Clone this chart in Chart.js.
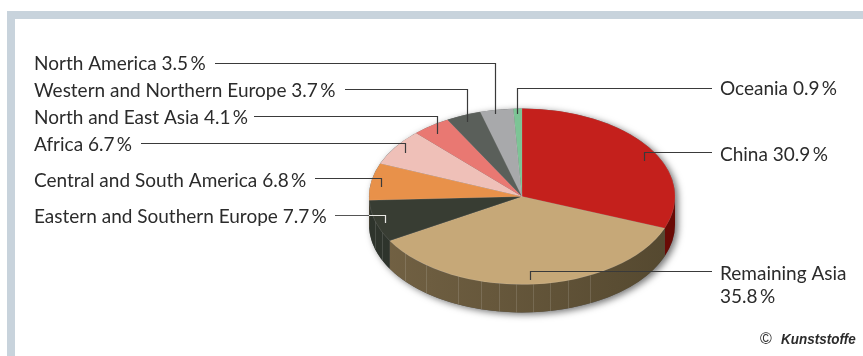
<!DOCTYPE html>
<html>
<head>
<meta charset="utf-8">
<title>Regional shares</title>
<script src="https://cdn.jsdelivr.net/npm/chart.js@4"></script>
<style>
  html, body { margin: 0; padding: 0; background: #fff; }
  canvas { display: block; }
</style>
</head>
<body>
<canvas id="regionPie" width="863" height="356"></canvas>
<script>
// clockwise from twelve o'clock
const regions = ['China', 'Remaining Asia', 'Eastern and Southern Europe', 'Central and South America', 'Africa', 'North and East Asia', 'Western and Northern Europe', 'North America', 'Oceania'];
const shares = [30.9, 35.8, 7.7, 6.8, 6.7, 4.1, 3.7, 3.5, 0.9];
const sliceColors = ['#c4201c', '#c6a878', '#383d33', '#e8914a', '#efc0b8', '#e97872', '#5a5f5a', '#a8a9ab', '#7cc495'];
const wallColors = ['#6a0a05', '#736244', '#2e342c', '#b06a30', '#b08a84', '#a8504c', '#3e423e', '#77787a', '#4f8a63'];

// pie geometry: tilt squashes the circle, depth is the height of the side wall
const TILT = 88 / 153;
const DEPTH = 28;
// facet seams on the wall, degrees clockwise from three o'clock
const wallSeams = [63.8, 72.5, 79.6, 86, 92.2, 98.8, 105.7, 114.8, 128.7, 140, 156, 164];

// leader lines: label side x, y, elbow x, end y
const leaders = [
  { x0: 712, y: 152.5, elbow: 644.5, end: 161 },
  { x0: 712, y: 271.5, elbow: 530.5, end: 280 },
  { x0: 335, y: 215.5, elbow: 385.5, end: 223 },
  { x0: 315, y: 178.5, elbow: 381.5, end: 187 },
  { x0: 141, y: 143.5, elbow: 405.5, end: 153 },
  { x0: 254, y: 116.5, elbow: 437.5, end: 134 },
  { x0: 345, y: 89.5, elbow: 467.5, end: 122 },
  { x0: 215, y: 63.5, elbow: 495.5, end: 114 },
  { x0: 712, y: 88.5, elbow: 517.5, end: 114 }
];
const labelSpots = [
  [720, 161], [720, 280], [34, 223], [34, 187], [34, 151], [34, 124], [34, 97], [34, 70], [720, 95]
];
const FONT = '19px Lato';

function pct(i) {
  return shares[i].toFixed(1) + '\u2009%';
}

const wallPlugin = {
  id: 'wall',
  beforeDatasetsDraw(chart) {
    const ctx = chart.ctx;
    const arcs = chart.getDatasetMeta(0).data;
    const cx = arcs[0].x, cy = arcs[0].y, r = arcs[0].outerRadius, ry = r * TILT;

    // soft shadow under the whole body
    ctx.save();
    ctx.shadowColor = 'rgba(0,0,0,0.55)';
    ctx.shadowBlur = 7;
    ctx.shadowOffsetX = 3;
    ctx.shadowOffsetY = 2;
    ctx.fillStyle = '#555';
    ctx.beginPath();
    ctx.ellipse(cx, cy + DEPTH, r, ry, 0, 0, Math.PI);
    ctx.ellipse(cx, cy, r, ry, 0, Math.PI, Math.PI * 2);
    ctx.closePath();
    ctx.fill();
    ctx.restore();

    // side wall, only where a slice faces the viewer
    arcs.forEach((arc, i) => {
      let a0 = Math.max(arc.startAngle, 0);
      let a1 = Math.min(arc.endAngle, Math.PI);
      if (a1 <= a0) return;
      const shade = ctx.createLinearGradient(cx - r, 0, cx + r, 0);
      shade.addColorStop(0, wallColors[i]);
      shade.addColorStop(1, i === 1 ? '#54482f' : wallColors[i]);
      ctx.fillStyle = shade;
      ctx.beginPath();
      ctx.ellipse(cx, cy, r, ry, 0, a0, a1);
      ctx.ellipse(cx, cy + DEPTH, r, ry, 0, a1, a0, true);
      ctx.closePath();
      ctx.fill();
    });

    ctx.strokeStyle = 'rgba(255,255,255,0.13)';
    ctx.lineWidth = 1;
    wallSeams.forEach(deg => {
      const a = deg * Math.PI / 180;
      const x = Math.round(cx + r * Math.cos(a)) + 0.5;
      const y = cy + ry * Math.sin(a);
      ctx.beginPath();
      ctx.moveTo(x, y);
      ctx.lineTo(x, y + DEPTH);
      ctx.stroke();
    });

    // squash the arcs the library is about to draw
    ctx.save();
    ctx.translate(cx, cy);
    ctx.scale(1, TILT);
    ctx.translate(-cx, -cy);
  },
  afterDatasetsDraw(chart) {
    chart.ctx.restore();
  }
};

const calloutPlugin = {
  id: 'callouts',
  afterDraw(chart) {
    const ctx = chart.ctx;
    ctx.save();

    // frame along the top and left edge
    ctx.fillStyle = '#c8d3dc';
    ctx.fillRect(7, 11, 856, 8);
    ctx.fillRect(7, 11, 8, 345);

    ctx.lineWidth = 1.2;
    leaders.forEach((l, i) => {
      ctx.strokeStyle = i === 2 ? '#555' : '#3a3a3a';
      ctx.beginPath();
      ctx.moveTo(l.x0, l.y);
      ctx.lineTo(l.elbow, l.y);
      ctx.lineTo(l.elbow, l.end);
      ctx.stroke();
    });
    // the leader turns light where it crosses the dark slice
    ctx.strokeStyle = '#e8e8e4';
    ctx.beginPath();
    ctx.moveTo(369, leaders[2].y);
    ctx.lineTo(leaders[2].elbow, leaders[2].y);
    ctx.lineTo(leaders[2].elbow, leaders[2].end);
    ctx.stroke();

    ctx.font = FONT;
    ctx.fillStyle = '#2b2b2b';
    ctx.textBaseline = 'alphabetic';
    regions.forEach((name, i) => {
      const [x, y] = labelSpots[i];
      if (i === 1) {
        // long enough to wrap in the right margin
        ctx.fillText(name, x, y);
        ctx.fillText(pct(i), x, y + 23);
      } else {
        ctx.fillText(name + ' ' + pct(i), x, y);
      }
    });

    ctx.font = '16px "Liberation Sans"';
    ctx.fillText('\u00A9', 760, 344);
    // condensed credit line
    ctx.translate(781, 344);
    ctx.scale(0.87, 1);
    ctx.font = 'italic bold 15.5px "Liberation Sans"';
    ctx.fillText('Kunststoffe', 0, 0);
    ctx.restore();
  }
};

new Chart(document.getElementById('regionPie'), {
  type: 'pie',
  data: {
    labels: regions,
    datasets: [{
      data: shares,
      backgroundColor: sliceColors,
      borderColor: 'rgba(255,255,255,0.2)',
      borderWidth: 0.5,
      clip: false
    }]
  },
  options: {
    responsive: false,
    animation: false,
    radius: 153,
    layout: { padding: { left: 181, top: 37 } },
    plugins: { legend: { display: false }, tooltip: { enabled: false } }
  },
  plugins: [wallPlugin, calloutPlugin]
});
</script>
</body>
</html>
